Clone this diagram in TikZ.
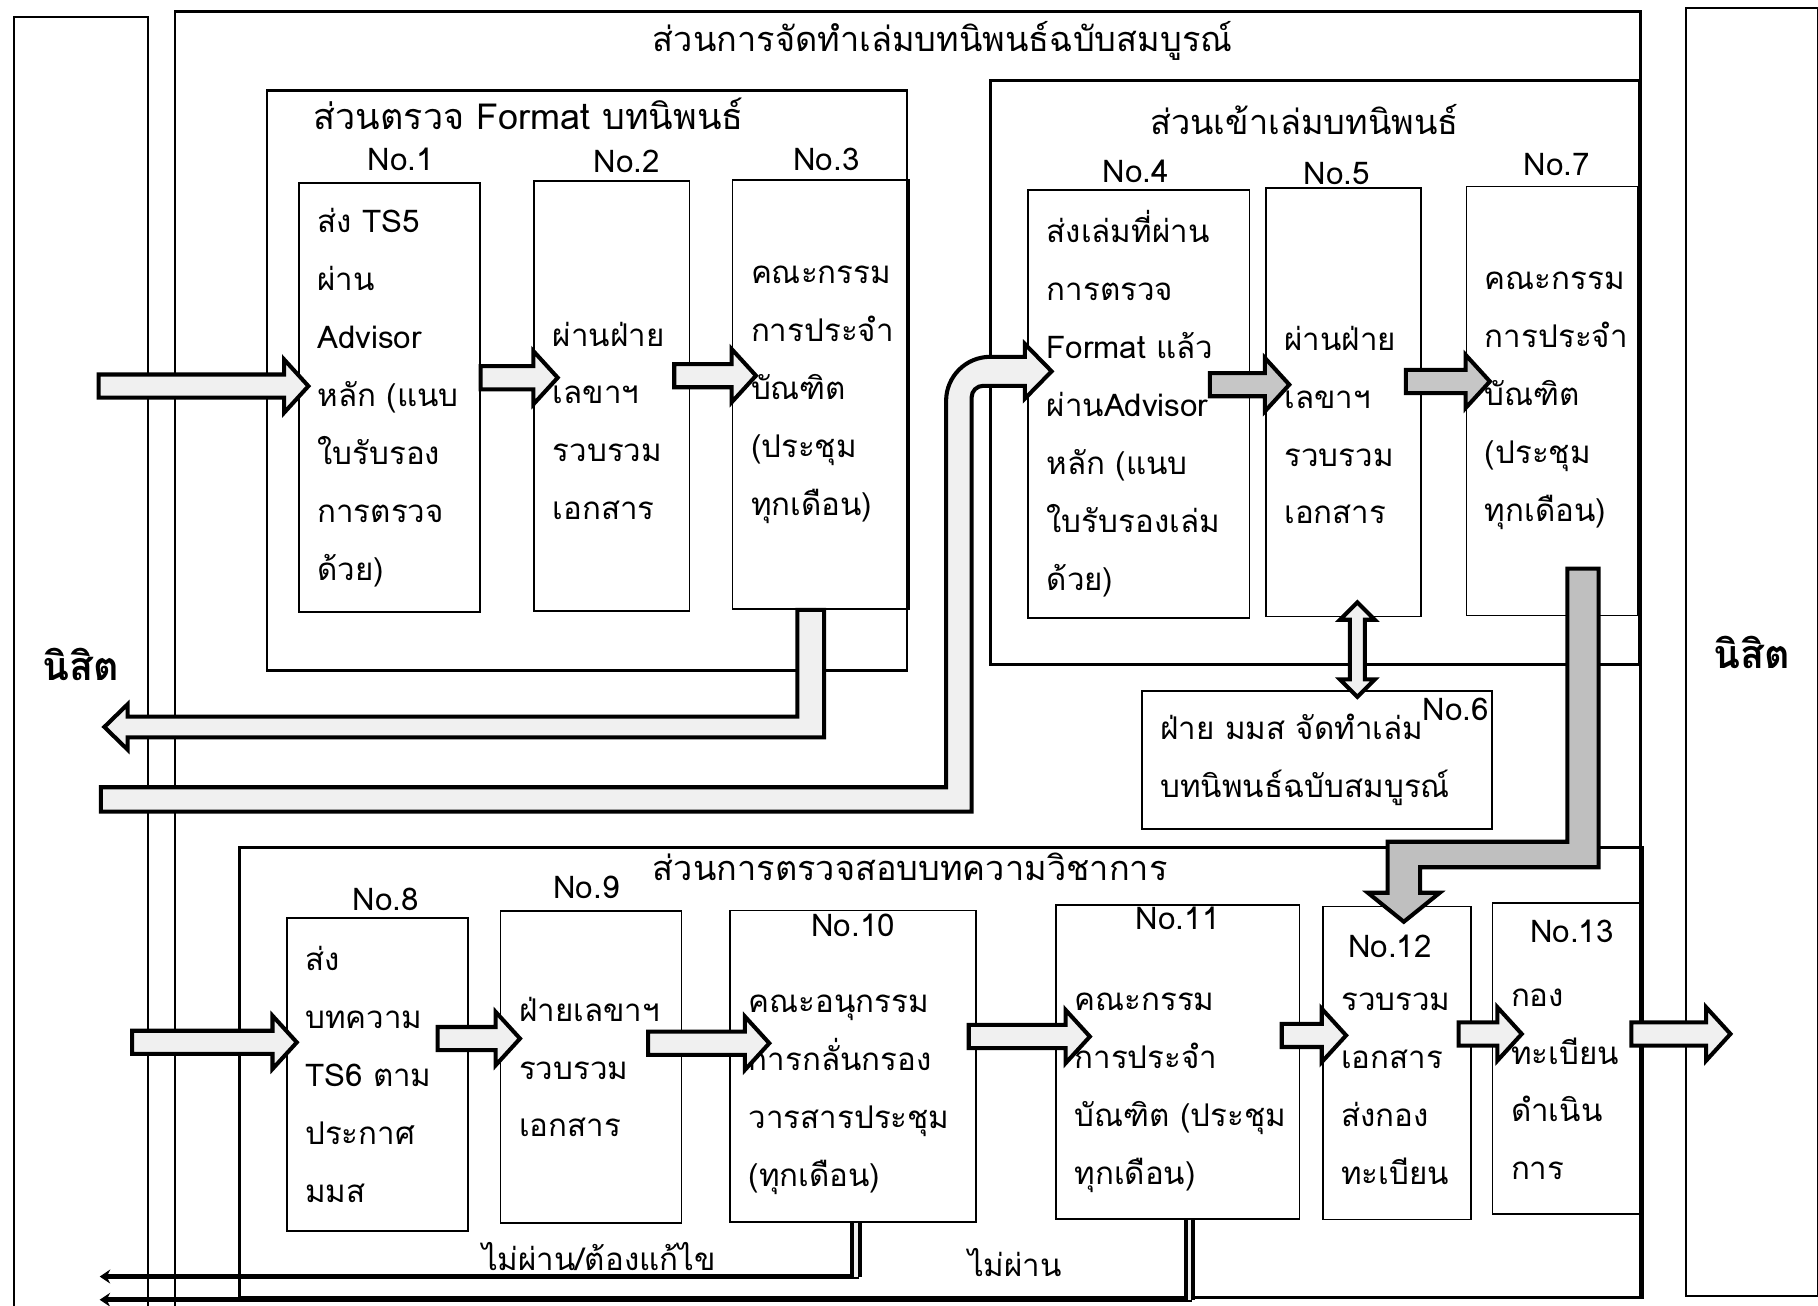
\documentclass[tikz,border=0pt]{standalone}
\usepackage{fontspec}
\setmainfont{Loma}[Script=Thai]
\usetikzlibrary{positioning}
\usetikzlibrary{arrows.meta}
\usetikzlibrary{calc}

\tikzset{
    pbox/.style 2 args={draw, line width=1.5pt, anchor=north west, align=left,
        inner xsep=16pt, inner ysep=0pt, minimum width=#1, minimum height=#2,
        text width=#1-32pt, font=\fontsize{27}{50}\selectfont},
    secbox/.style 2 args={draw, line width=2.5pt, anchor=north west, inner sep=0pt,
        minimum width=#1, minimum height=#2},
    student/.style 2 args={draw, line width=1.8pt, anchor=north west, inner sep=0pt,
        minimum width=#1, minimum height=#2, font=\fontsize{34}{40}\selectfont\bfseries},
    sectitle/.style={inner sep=0pt, font=\fontsize{29.6}{36}\selectfont},
    numlabel/.style={inner sep=0pt, font=\fontsize{27}{30}\selectfont},
    blockarrow/.style={draw, line width=3.5pt, fill=gray!12, line join=miter},
    flowarrow/.style={blockarrow, to path={let \p1=(\tikztostart), \p2=(\tikztotarget) in
        (\x1,\y1+10pt) -- (\x2,\y1+10pt) -- (\x2,\y1+23pt) -- (\x2+21pt,\y1)
        -- (\x2,\y1-23pt) -- (\x2,\y1-10pt) -- (\x1,\y1-10pt) -- cycle}},
    swaparrow/.style={blockarrow, to path={let \p1=(\tikztostart), \p2=(\tikztotarget) in
        (\x1,\y1) -- (\x1+15pt,\y1-15pt) -- (\x1+6.5pt,\y1-15pt) -- (\x1+6.5pt,\y2+15pt)
        -- (\x1+15pt,\y2+15pt) -- (\x1,\y2) -- (\x1-15pt,\y2+15pt) -- (\x1-6.5pt,\y2+15pt)
        -- (\x1-6.5pt,\y1-15pt) -- (\x1-15pt,\y1-15pt) -- cycle}},
    failline/.style={line width=4.5pt, -{Stealth[length=9pt,width=12pt]}},
    failstem/.style={line width=3.5pt, double=gray!12, double distance=3pt},
}

\begin{document}
\begin{tikzpicture}[x=1pt, y=-1pt]
        \useasboundingbox (0,0) rectangle (1568,1126);

        \node[student={116pt}{1116pt}] (stuL) at (11,14) {นิสิต};
        \node[student={114pt}{1111pt}] (stuR) at (1453,6) {นิสิต};

        \draw[line width=2pt] (151,1130) |- (1415,10) -- (1415,1118);
        \node[sectitle] (tA) at (813,35) {ส่วนการจัดทำเล่มบทนิพนธ์ฉบับสมบูรณ์};

        \node[secbox={552pt}{500pt}] (secC) at (229,77) {};
        \node[sectitle, font=\fontsize{31}{36}\selectfont] (tC) at (456,98) {ส่วนตรวจ Format บทนิพนธ์};
        \node[secbox={560pt}{504pt}] (secB) at (853,68) {};
        \node[sectitle] (tB) at (1125,103) {ส่วนเข้าเล่มบทนิพนธ์};
        \node[secbox={1210pt}{388pt}] (secD) at (205,730) {};
        \node[sectitle] (tD) at (785,748) {ส่วนการตรวจสอบบทความวิชาการ};

        \node[pbox={156pt}{370pt}, label={[numlabel, xshift=10pt, yshift=9.5pt]above:No.1}] (b1) at (257,157)
            {ส่ง~TS5\\ผ่าน\\Advisor\\หลัก~(แนบ\\ใบรับรอง\\การตรวจ\\ด้วย)};
        \node[pbox={134pt}{370.5pt}, label={[numlabel, xshift=13pt, yshift=6pt]above:No.2}] (b2) at (460,155.5)
            {\mbox{}\\[14pt]ผ่านฝ่าย\\เลขาฯ\\รวบรวม\\เอกสาร};
        \node[pbox={152pt}{370pt}, label={[numlabel, xshift=5pt, yshift=7pt]above:No.3}] (b3) at (631,154.5)
            {คณะกรรม\\การประจำ\\บัณฑิต\\(ประชุม\\ทุกเดือน)};
        \node[pbox={191pt}{369pt}, label={[numlabel, xshift=-2.5pt, yshift=5.5pt]above:No.4}] (b4) at (886,163)
            {ส่งเล่มที่ผ่าน\\การตรวจ\\Format~แล้ว\\ผ่านAdvisor\\หลัก~(แนบ\\ใบรับรองเล่ม\\ด้วย)};
        \node[pbox={134pt}{369.5pt}, label={[numlabel, xshift=-6pt, yshift=2pt]above:No.5}] (b5) at (1091,161.5)
            {\mbox{}\\[10pt]ผ่านฝ่าย\\เลขาฯ\\รวบรวม\\เอกสาร};
        \node[pbox={148pt}{370pt}, label={[numlabel, xshift=4pt, yshift=8.5pt]above:No.7}] (b7) at (1264,160)
            {คณะกรรม\\การประจำ\\บัณฑิต\\(ประชุม\\ทุกเดือน)};
        \node[pbox={302pt}{119pt}, label={[numlabel, anchor=north east, xshift=-3pt, yshift=-6.5pt]north east:No.6}] (b6) at (984,595)
            {ฝ่าย มมส จัดทำเล่ม\\บทนิพนธ์ฉบับสมบูรณ์};

        \node[pbox={156.5pt}{270pt}, label={[numlabel, xshift=7pt, yshift=5.5pt]above:No.8}] (b8) at (246.5,791)
            {ส่ง\\บทความ\\TS6~ตาม\\ประกาศ\\มมส};
        \node[pbox={156pt}{269pt}, label={[numlabel, xshift=-4pt, yshift=9.5pt]above:No.9}] (b9) at (431,785)
            {ฝ่ายเลขาฯ\\รวบรวม\\เอกสาร};
        \node[pbox={212pt}{268.5pt}, label={[numlabel, anchor=north, yshift=-4pt]north:No.10}] (b10) at (629,784.5)
            {\mbox{}\\[14pt]คณะอนุกรรม\\การกลั่นกรอง\\วารสารประชุม\\(ทุกเดือน)};
        \node[pbox={210pt}{270.5pt}, label={[numlabel, anchor=north, yshift=-2.5pt]north:No.11}] (b11) at (910,780)
            {\mbox{}\\[18pt]คณะกรรม\\การประจำ\\บัณฑิต~(ประชุม\\ทุกเดือน)};
        \node[pbox={128pt}{270pt}, label={[numlabel, anchor=north, xshift=-6pt, yshift=-25.5pt]north:No.12}] (b12) at (1140,781)
            {\mbox{}\\[10pt]รวบรวม\\เอกสาร\\ส่งกอง\\ทะเบียน};
        \node[pbox={129pt}{268pt}, label={[numlabel, anchor=north, xshift=4pt, yshift=-15.5pt]north:No.13}] (b13) at (1286.5,778)
            {\mbox{}\\[10pt]กอง\\ทะเบียน\\ดำเนิน\\การ};

        \coordinate (inA) at (85,333);
        \coordinate (retA) at (90,627);
        \coordinate (retB) at (87,689.5);
        \coordinate (inD) at (114,899);
        \coordinate (outD) at (1471.5,891);
        \coordinate (fail1) at (86,1101);
        \coordinate (fail2) at (86,1121);

        \draw[flowarrow] (inA) to ([xshift=-12pt]b1.west);
        \draw[flowarrow] ([yshift=17pt]b1.east) to (b2.west);
        \draw[flowarrow] ([xshift=-14pt,yshift=17.5pt]b2.east) to (b3.west);
        \draw[flowarrow, fill=gray!45] ([xshift=-35pt,yshift=16.5pt]b4.east) to (b5.west);
        \draw[flowarrow, fill=gray!45] ([xshift=-14pt,yshift=18pt]b5.east) to (b7.west);
        \draw[swaparrow] ([xshift=12pt,yshift=13pt]b5.south) to ([xshift=35pt,yshift=-6pt]b6.north);

        \draw[blockarrow] let \p1=([xshift=-8.5pt]b3.south), \p2=(retA) in
            (\x1-11.5pt,\y1) -- (\x1+11.5pt,\y1) -- (\x1+11.5pt,\y2-9pt) -- (\x2+20pt,\y2-9pt)
            -- (\x2+20pt,\y2-19.5pt) -- (\x2,\y2) -- (\x2+20pt,\y2+19.5pt) -- (\x2+20pt,\y2+9pt)
            -- (\x1-11.5pt,\y2+9pt) -- cycle;
        \draw[blockarrow] let \p1=(retB), \p2=([xshift=-2pt,yshift=28pt]b4.west) in
            (\x1,\y1+10.5pt) -- (\x2-68pt,\y1+10.5pt) -- (\x2-68pt,\y2-25.5pt)
            arc[start angle=180, end angle=90, radius=38pt] -- (\x2,\y2+12.5pt) -- (\x2,\y2+23.5pt)
            -- (\x2+23pt,\y2) -- (\x2,\y2-23.5pt) -- (\x2,\y2-12.5pt) -- (\x2-36pt,\y2-12.5pt)
            arc[start angle=90, end angle=180, radius=10pt] -- (\x2-46pt,\y1-10.5pt) -- (\x1,\y1-10.5pt) -- cycle;
        \draw[blockarrow, fill=gray!50] let \p1=([xshift=26.5pt,yshift=41pt]b7.south), \p2=([xshift=6pt,yshift=-14pt]b12.north) in
            (\x1-13.5pt,\y1) -- (\x1+13.5pt,\y1) -- (\x1+13.5pt,\y2+47pt) -- (\x2+14pt,\y2+47pt)
            -- (\x2+14pt,\y2+25pt) -- (\x2+31pt,\y2+25pt) -- (\x2,\y2) -- (\x2-31pt,\y2+25pt)
            -- (\x2-14pt,\y2+25pt) -- (\x2-14pt,\y2+69pt) -- (\x1-13.5pt,\y2+69pt) -- cycle;

        \draw[flowarrow] (inD) to ([xshift=-11.5pt]b8.west);
        \draw[flowarrow] ([xshift=-27pt,yshift=31pt]b8.east) to ([xshift=-3.5pt]b9.west);
        \draw[flowarrow] ([xshift=-29.5pt,yshift=20.5pt]b9.east) to ([xshift=13.5pt]b10.west);
        \draw[flowarrow] ([xshift=-7pt,yshift=25.5pt]b10.east) to ([xshift=9pt]b11.west);
        \draw[flowarrow] ([xshift=-16pt,yshift=23pt]b11.east) to (b12.west);
        \draw[flowarrow] ([xshift=-11.5pt,yshift=25pt]b12.east) to ([xshift=5pt]b13.west);
        \draw[flowarrow] ([xshift=-10pt,yshift=21pt]b13.east) to (outD);

        \draw[failline] ([xshift=2.5pt]b10.south) |- (fail1) node[numlabel, pos=0.67, above=3pt] {ไม่ผ่าน/ต้องแก้ไข};
        \draw[failstem] ([xshift=2.5pt]b10.south) -- ([xshift=2.5pt]b10.south |- fail1);
        \draw[failline] ([xshift=10pt]b11.south) |- (fail2) node[numlabel, pos=0.58, above=18pt] {ไม่ผ่าน};
        \draw[failstem] ([xshift=10pt]b11.south) -- ([xshift=10pt]b11.south |- fail2);
\end{tikzpicture}
\end{document}
